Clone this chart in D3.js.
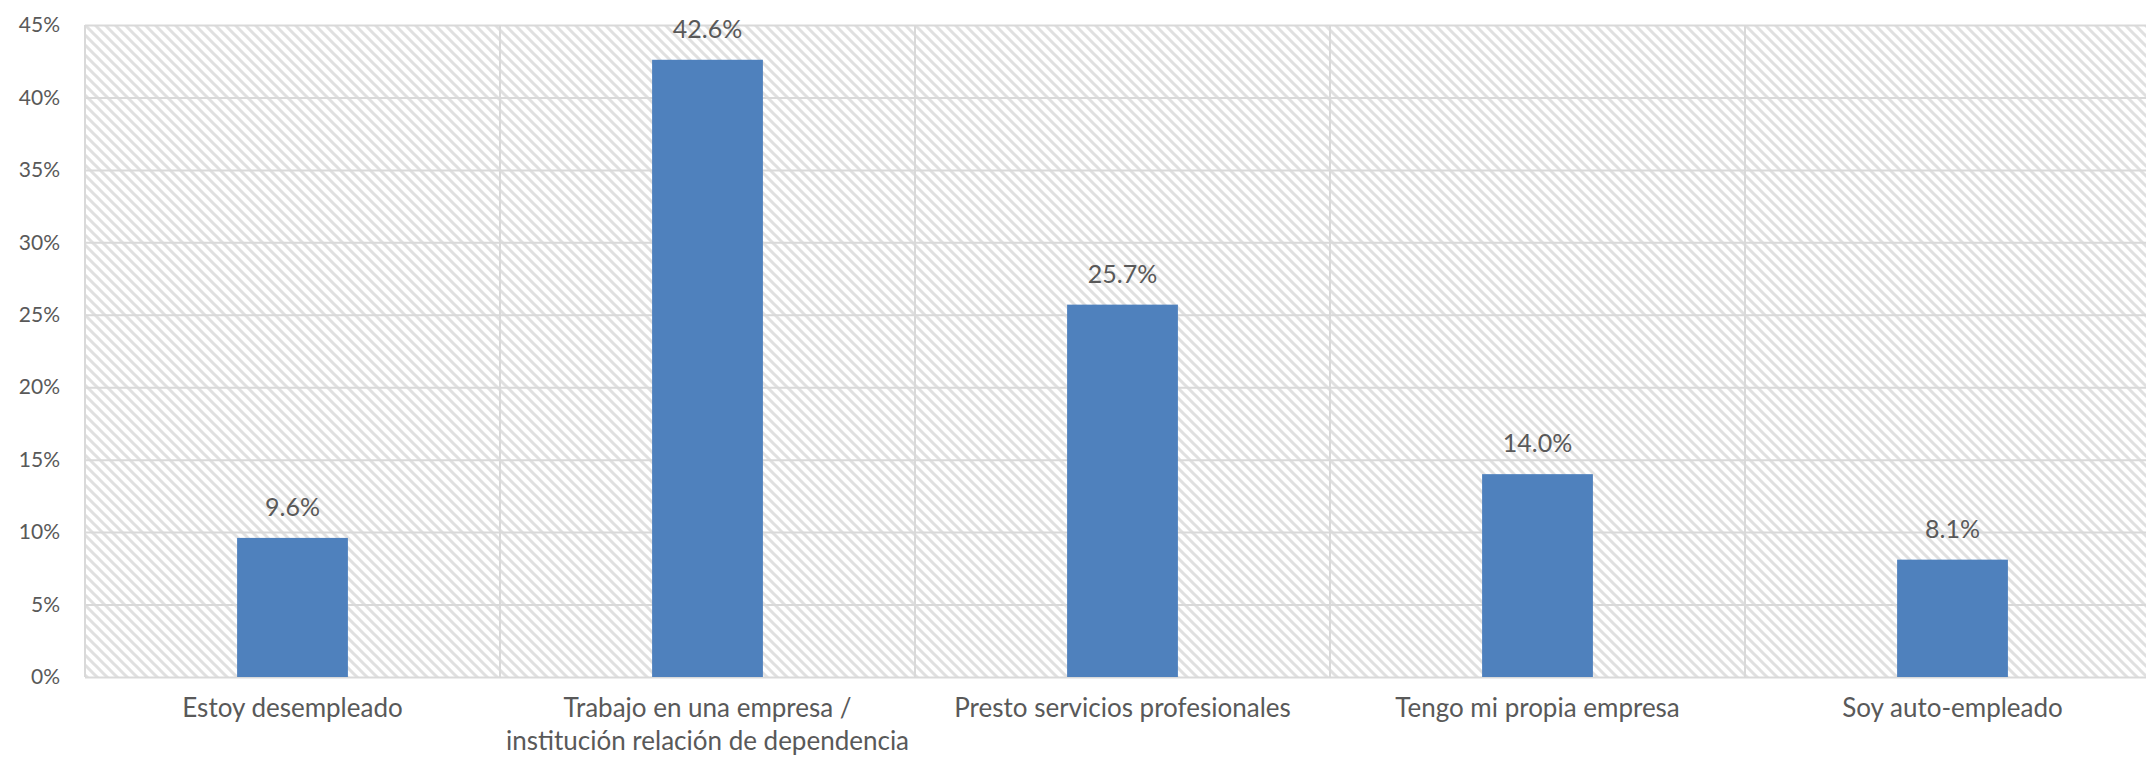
<!DOCTYPE html>
<html>
<head>
<meta charset="utf-8">
<script src="https://cdn.jsdelivr.net/npm/d3@7"></script>
<style>
  html, body { margin: 0; padding: 0; background: #fff; overflow: hidden; }
  svg { display: block; }
  text { font-family: Lato, "Open Sans", sans-serif; fill: #595959; }
</style>
</head>
<body>
<div id="chart"></div>
<script>
const categories = [
  ["Estoy desempleado"],
  ["Trabajo en una empresa /", "institución relación de dependencia"],
  ["Presto servicios profesionales"],
  ["Tengo mi propia empresa"],
  ["Soy auto-empleado"]
];
const values = [9.6, 42.6, 25.7, 14.0, 8.1];
const yTicks = [0, 5, 10, 15, 20, 25, 30, 35, 40, 45];

const width = 2146;
const height = 761;
// the plot area runs a little past the right edge of the picture
const margin = { top: 25, left: 85, bottom: 84 };
const innerW = 2075;
const innerH = height - margin.top - margin.bottom;

const svg = d3.select("#chart")
  .append("svg")
  .attr("width", width)
  .attr("height", height);

// diagonal hatch like the excel plot area fill
const defs = svg.append("defs");
const pat = defs.append("pattern")
  .attr("id", "hatch")
  .attr("patternUnits", "userSpaceOnUse")
  .attr("width", 10)
  .attr("height", 10);
pat.append("rect").attr("width", 10).attr("height", 10).attr("fill", "#fff");
pat.append("path")
  .attr("d", "M-2,-2 L12,12 M-2,8 L2,12 M8,-2 L12,2")
  .attr("stroke", "#e0e0e0")
  .attr("stroke-width", 3);

const keys = categories.map(function(c) { return c.join(" "); });

const x = d3.scaleBand()
  .domain(keys)
  .range([0, innerW]);

const y = d3.scaleLinear()
  .domain([0, 45])
  .range([innerH, 0]);

const g = svg.append("g")
  .attr("transform", "translate(" + margin.left + "," + margin.top + ")");

g.append("rect")
  .attr("width", innerW)
  .attr("height", innerH)
  .attr("fill", "url(#hatch)");

// horizontal gridlines
g.append("g")
  .attr("class", "grid")
  .call(d3.axisLeft(y).tickValues(yTicks).tickSize(-innerW).tickFormat(""))
  .call(function(s) { s.select(".domain").remove(); })
  .selectAll("line")
  .attr("stroke", "#d9d9d9")
  .attr("stroke-width", 2);

// vertical category dividers
g.append("g")
  .selectAll("line")
  .data(keys.concat(["end"]))
  .enter()
  .append("line")
  .attr("x1", function(d, i) { return i < keys.length ? x(d) : innerW; })
  .attr("x2", function(d, i) { return i < keys.length ? x(d) : innerW; })
  .attr("y1", 0)
  .attr("y2", innerH)
  .attr("stroke", "#d9d9d9")
  .attr("stroke-width", 2);

// y axis labels
g.append("g")
  .call(d3.axisLeft(y).tickValues(yTicks).tickSize(0).tickPadding(25)
    .tickFormat(function(d) { return d + "%"; }))
  .call(function(s) { s.select(".domain").remove(); })
  .selectAll("text")
  .style("font-size", "21px")
  .attr("fill", "#595959");

const barW = x.bandwidth() * 0.267;

g.selectAll(".bar")
  .data(values)
  .enter()
  .append("rect")
  .attr("class", "bar")
  .attr("x", function(d, i) { return x(keys[i]) + (x.bandwidth() - barW) / 2; })
  .attr("y", function(d) { return y(d); })
  .attr("width", barW)
  .attr("height", function(d) { return innerH - y(d); })
  .attr("fill", "#4f81bd");

g.selectAll(".val")
  .data(values)
  .enter()
  .append("text")
  .attr("class", "val")
  .attr("x", function(d, i) { return x(keys[i]) + x.bandwidth() / 2; })
  .attr("y", function(d) { return y(d) - 22; })
  .attr("text-anchor", "middle")
  .style("font-size", "25px")
  .text(function(d) { return d.toFixed(1) + "%"; });

// category labels, multi-line
const cat = g.selectAll(".cat")
  .data(categories)
  .enter()
  .append("text")
  .attr("class", "cat")
  .attr("text-anchor", "middle")
  .attr("transform", function(d, i) {
    return "translate(" + (x(keys[i]) + x.bandwidth() / 2) + "," + (innerH + 40) + ")";
  })
  .style("font-size", "26px");

cat.selectAll("tspan")
  .data(function(d) { return d; })
  .enter()
  .append("tspan")
  .attr("x", 0)
  .attr("dy", function(d, i) { return i === 0 ? 0 : 33; })
  .text(function(d) { return d; });
</script>
</body>
</html>
